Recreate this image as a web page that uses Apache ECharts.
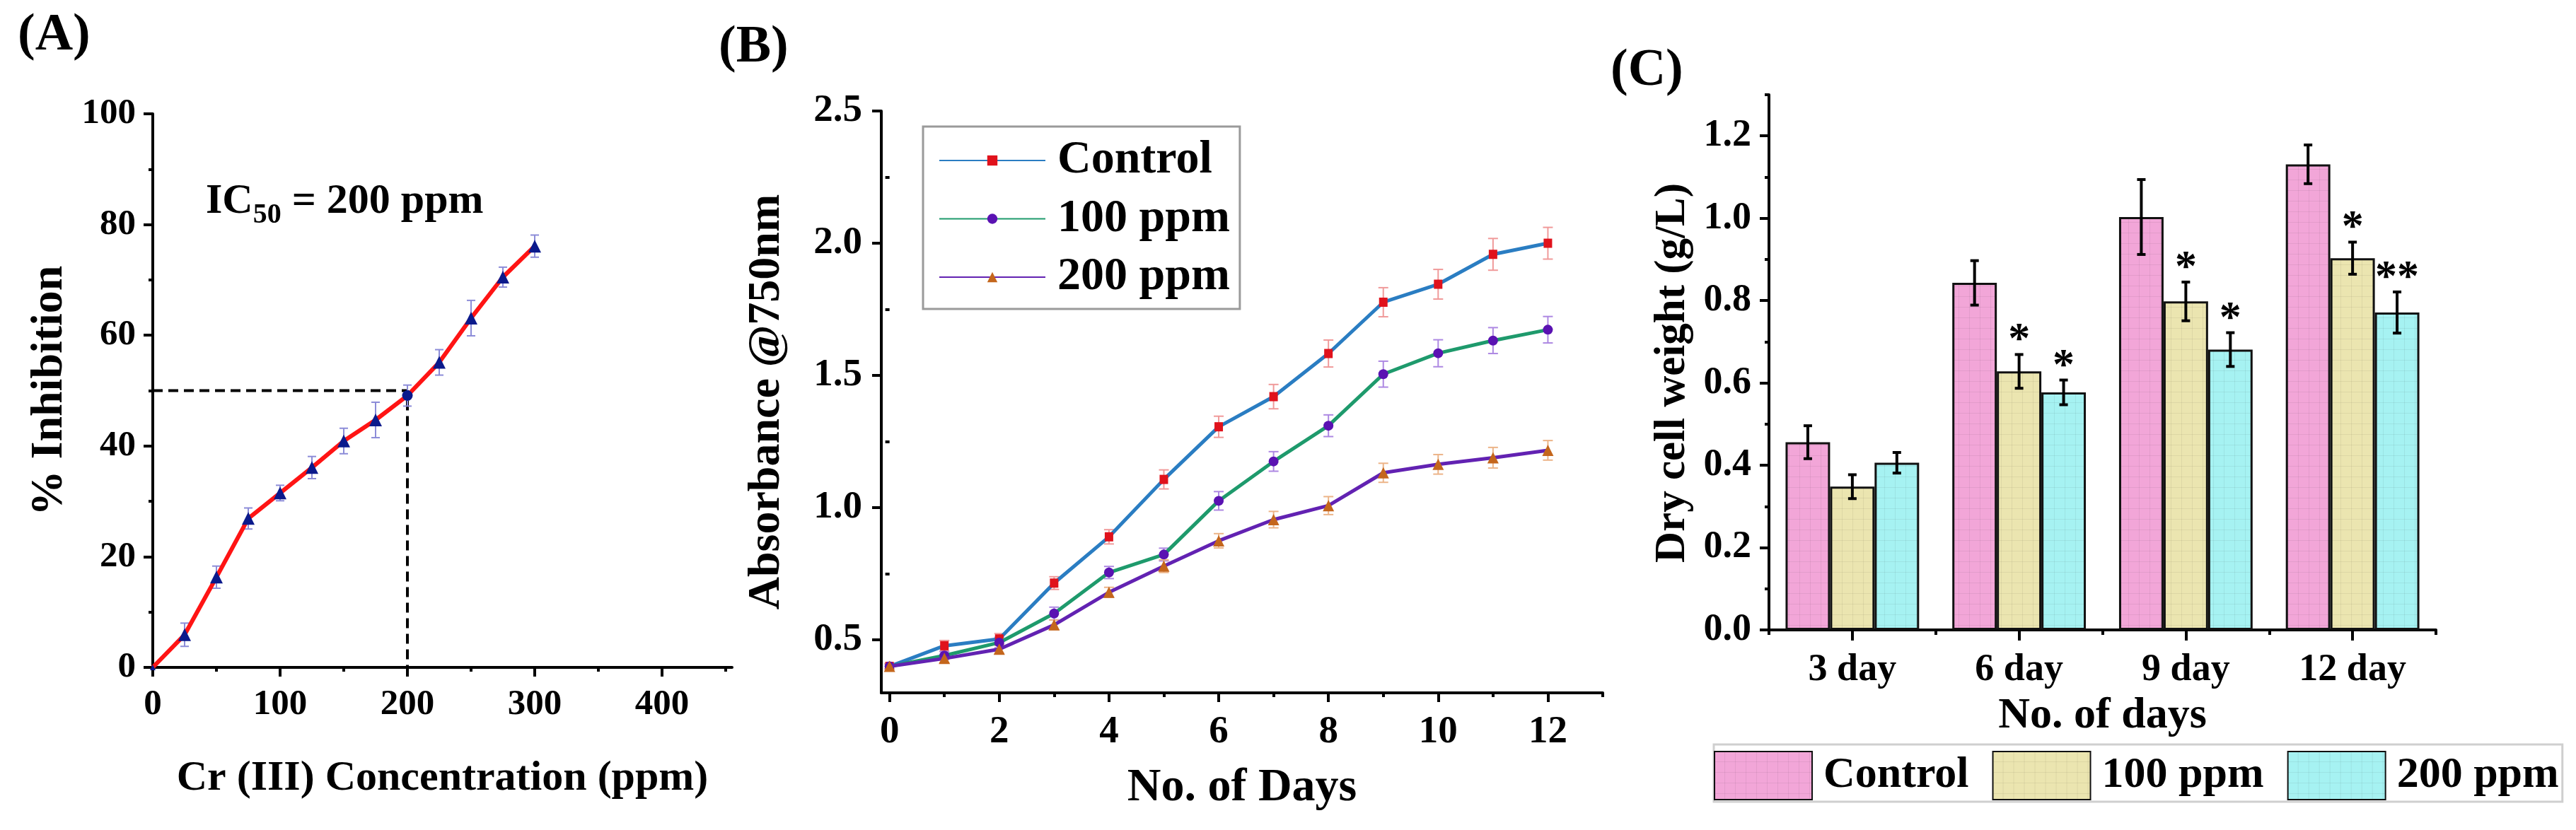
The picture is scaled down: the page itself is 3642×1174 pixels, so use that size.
<!DOCTYPE html>
<html>
<head>
<meta charset="utf-8">
<script src="https://cdn.jsdelivr.net/npm/echarts@6/dist/echarts.min.js"></script>
<style>
html,body{margin:0;padding:0;background:#fff;}
#wrap{position:relative;width:3642px;height:1174px;overflow:hidden;background:#fff;}
.pane{position:absolute;top:0;height:1174px;}
#pa{left:0;width:1100px;}
#pb{left:1000px;width:1280px;}
#pc{left:2260px;width:1382px;}
</style>
</head>
<body>
<div id="wrap"><div id="pa" class="pane"></div><div id="pb" class="pane"></div><div id="pc" class="pane"></div></div>
<script>
// ---------- Panel A data ----------
const aConc  = [0, 25, 50, 75, 100, 125, 150, 175, 200, 225, 250, 275, 300];
const aInhib = [0, 5.9, 16.3, 26.9, 31.5, 36.1, 40.9, 44.7, 49.1, 55.1, 63.1, 70.5, 76.1];
const aErr   = [0, 2.1, 2.0, 1.9, 1.4, 2.0, 2.3, 3.2, 1.9, 2.3, 3.2, 1.8, 2.0];
const aIC50Value = 50;
const aIC50Conc = 200;
const aXTicks = [0, 100, 200, 300, 400];
const aYTicks = [0, 20, 40, 60, 80, 100];

// ---------- Panel B data ----------
const bNames = ['Control', '100 ppm', '200 ppm'];
const bDays = [0, 1, 2, 3, 4, 5, 6, 7, 8, 9, 10, 11, 12];
const bControl    = [0.40, 0.478, 0.504, 0.715, 0.890, 1.107, 1.306, 1.420, 1.583, 1.777, 1.845, 1.958, 2.000];
const bControlErr = [0.010, 0.020, 0.020, 0.024, 0.027, 0.036, 0.040, 0.046, 0.051, 0.055, 0.056, 0.060, 0.060];
const b100ppm     = [0.40, 0.441, 0.490, 0.600, 0.755, 0.823, 1.026, 1.175, 1.310, 1.505, 1.584, 1.632, 1.673];
const b100ppmErr  = [0.010, 0.015, 0.020, 0.024, 0.023, 0.024, 0.035, 0.037, 0.041, 0.049, 0.051, 0.049, 0.050];
const b200ppm     = [0.40, 0.430, 0.465, 0.557, 0.680, 0.779, 0.875, 0.955, 1.008, 1.132, 1.164, 1.189, 1.217];
const b200ppmErr  = [0.010, 0.015, 0.015, 0.018, 0.019, 0.024, 0.027, 0.031, 0.034, 0.036, 0.037, 0.039, 0.037];
const bXTicks = [0, 2, 4, 6, 8, 10, 12];
const bYTicks = [0.5, 1.0, 1.5, 2.0, 2.5];

// ---------- Panel C data ----------
const cNames = ['Control', '100 ppm', '200 ppm'];
const cCategories = ['3 day', '6 day', '9 day', '12 day'];
const cControl    = [0.456, 0.843, 1.003, 1.131];
const cControlErr = [0.040, 0.054, 0.091, 0.047];
const c100ppm     = [0.348, 0.628, 0.798, 0.903];
const c100ppmErr  = [0.029, 0.041, 0.047, 0.039];
const c200ppm     = [0.406, 0.577, 0.681, 0.771];
const c200ppmErr  = [0.025, 0.030, 0.041, 0.050];
const cSigControl = ['', '', '', ''];
const cSig100ppm  = ['', '*', '*', '*'];
const cSig200ppm  = ['', '*', '*', '**'];
const cYTicks = [0, 0.2, 0.4, 0.6, 0.8, 1.0, 1.2];

// ---------- helpers ----------
const FONT = "'Liberation Serif', 'Times New Roman', serif";
function minorOf(ticks, max) {
  const step = ticks[1] - ticks[0];
  const out = [];
  for (let i = 0; i < ticks.length; i++) {
    const v = +(ticks[i] + step / 2).toFixed(6);
    if (v <= max + 1e-9) out.push(v);
  }
  return out;
}
function txt(size, extra) {
  return Object.assign({color: '#000', fontFamily: FONT, fontWeight: 'bold', fontSize: size}, extra || {});
}
const AX_LINE = {show: true, onZero: false, lineStyle: {color: '#000', width: 4}};
function mainAxis(type, min, max, ticks, tickLen, labelSize, margin, fmt, nameObj) {
  const o = {
    type: type, min: min, max: max,
    axisLine: AX_LINE,
    axisTick: {show: true, customValues: ticks, length: tickLen, lineStyle: {color: '#000', width: 4}},
    axisLabel: txt(labelSize, {customValues: ticks, margin: margin, formatter: fmt}),
    splitLine: {show: false}
  };
  return Object.assign(o, nameObj || {});
}
function minorAxis(min, max, ticks, len, position) {
  return {
    type: 'value', min: min, max: max, position: position,
    axisLine: {show: false},
    axisTick: {show: true, customValues: ticks, length: len, lineStyle: {color: '#000', width: 4}},
    axisLabel: {show: false}, splitLine: {show: false}
  };
}
function errRender(color, capW, lw) {
  return function (params, api) {
    const x = api.value(0), lo = api.value(1), hi = api.value(2);
    const p1 = api.coord([x, lo]), p2 = api.coord([x, hi]);
    const st = {stroke: color, lineWidth: lw};
    return {type: 'group', children: [
      {type: 'line', shape: {x1: p1[0], y1: p1[1], x2: p2[0], y2: p2[1]}, style: st},
      {type: 'line', shape: {x1: p1[0] - capW / 2, y1: p1[1], x2: p1[0] + capW / 2, y2: p1[1]}, style: st},
      {type: 'line', shape: {x1: p2[0] - capW / 2, y1: p2[1], x2: p2[0] + capW / 2, y2: p2[1]}, style: st}
    ]};
  };
}
function errData(xs, ys, es) {
  const out = [];
  for (let i = 0; i < xs.length; i++) if (es[i] > 0) out.push([xs[i], ys[i] - es[i], ys[i] + es[i]]);
  return out;
}
// faint grid fill pattern, like the reference bars
function gridPattern(fill) {
  const c = document.createElement('canvas');
  c.width = 15; c.height = 15;
  const g = c.getContext('2d');
  g.fillStyle = fill; g.fillRect(0, 0, 15, 15);
  g.fillStyle = 'rgba(0,0,0,0.06)';
  g.fillRect(14, 0, 1, 15);
  g.fillRect(0, 14, 15, 1);
  return {image: c, repeat: 'repeat'};
}

// ---------- Chart A ----------
const chA = echarts.init(document.getElementById('pa'));
chA.setOption({
  animation: false,
  grid: {left: 216, top: 161, width: 819, height: 783},
  xAxis: [
    mainAxis('value', 0, 455, aXTicks, 13, 51, 27, v => String(v), {
      name: 'Cr (III) Concentration (ppm)', nameLocation: 'middle', nameGap: 127, nameTextStyle: txt(60)
    }),
    minorAxis(0, 455, minorOf(aXTicks, 455), 6, 'bottom')
  ],
  yAxis: [
    mainAxis('value', 0, 100, aYTicks, 13, 51, 24, v => String(v), {
      name: '% Inhibition', nameLocation: 'middle', nameGap: 114, nameTextStyle: txt(64)
    }),
    minorAxis(0, 100, minorOf(aYTicks, 100), 6, 'left')
  ],
  graphic: [
    {type: 'text', left: 25, top: 14, style: {text: '(A)', fill: '#000', fontFamily: FONT, fontWeight: 'bold', fontSize: 74}},
    {type: 'text', left: 291, top: 255, style: {
      text: '{a|IC}{b|' + aIC50Value + '}{a| = ' + aIC50Conc + ' ppm}',
      rich: {
        a: {fontFamily: FONT, fontWeight: 'bold', fontSize: 60, lineHeight: 80, verticalAlign: 'middle', fill: '#000'},
        b: {fontFamily: FONT, fontWeight: 'bold', fontSize: 40, lineHeight: 40, verticalAlign: 'bottom', fill: '#000'}
      }
    }}
  ],
  series: [
    {type: 'line', name: 'IC50 guide', xAxisIndex: 0, yAxisIndex: 0, z: 1, silent: true,
     data: [[0, aIC50Value], [aIC50Conc, aIC50Value], [aIC50Conc, 0]], symbol: 'none',
     lineStyle: {color: '#000', width: 4, type: [14, 8]}},
    {type: 'custom', name: 'errA', xAxisIndex: 0, yAxisIndex: 0, z: 2,
     renderItem: errRender('#8c8cd8', 12, 2), encode: {x: 0, y: [1, 2]},
     data: errData(aConc, aInhib, aErr)},
    {type: 'line', name: '% Inhibition', xAxisIndex: 0, yAxisIndex: 0, z: 3,
     data: aConc.map((x, i) => {
       const item = {value: [x, aInhib[i]]};
       if (x === aIC50Conc) { item.symbol = 'circle'; item.symbolSize = 15; }
       if (x === 0) { item.symbolSize = 8; }
       return item;
     }),
     symbol: 'triangle', symbolSize: 18,
     itemStyle: {color: '#0b1a8c'},
     lineStyle: {color: '#ff1414', width: 6}}
  ]
});

// ---------- Chart B ----------
const chB = echarts.init(document.getElementById('pb'));
const bSeriesDef = [
  {name: bNames[0], y: bControl, e: bControlErr, line: '#2a7dc2', mark: '#e0121c', err: '#f09a9a', sym: 'rect', size: [12, 13]},
  {name: bNames[1], y: b100ppm, e: b100ppmErr, line: '#1e9a6c', mark: '#5a12b2', err: '#ad88e2', sym: 'circle', size: 14},
  {name: bNames[2], y: b200ppm, e: b200ppmErr, line: '#6222b2', mark: '#c4661c', err: '#ecb488', sym: 'triangle', size: 16}
];
const bSeries = [];
bSeriesDef.forEach((s, k) => {
  bSeries.push({type: 'custom', name: s.name + ' error', xAxisIndex: 0, yAxisIndex: 0, z: 2,
    renderItem: errRender(s.err, 14, 2), encode: {x: 0, y: [1, 2]},
    data: errData(bDays, s.y, s.e)});
});
bSeriesDef.forEach((s, k) => {
  bSeries.push({type: 'line', name: s.name, xAxisIndex: 0, yAxisIndex: 0, z: 3 + k,
    data: bDays.map((d, i) => [d, s.y[i]]),
    symbol: s.sym, symbolSize: s.size,
    itemStyle: {color: s.mark},
    lineStyle: {color: s.line, width: 5}});
});
chB.setOption({
  animation: false,
  grid: {left: 246, top: 157, width: 1020, height: 823},
  xAxis: [
    mainAxis('value', -0.15, 13, bXTicks, 13, 55, 28, v => String(v), {
      name: 'No. of Days', nameLocation: 'middle', nameGap: 102, nameTextStyle: txt(66)
    }),
    minorAxis(-0.15, 13, minorOf(bXTicks, 13), 6, 'bottom')
  ],
  yAxis: [
    mainAxis('value', 0.3, 2.5, bYTicks, 13, 55, 27, v => v.toFixed(1), {
      name: 'Absorbance @750nm', nameLocation: 'middle', nameGap: 130, nameTextStyle: txt(64)
    }),
    minorAxis(0.3, 2.5, minorOf(bYTicks, 2.5), 6, 'left')
  ],
  legend: {
    orient: 'vertical', left: 305, top: 179, padding: [15, 14, 12, 22],
    itemGap: 16.5, itemWidth: 150, itemHeight: 18,
    borderColor: '#9a9a9a', borderWidth: 3, backgroundColor: '#fff',
    textStyle: txt(66, {padding: [0, 0, 0, 12]}),
    data: bNames
  },
  graphic: [
    {type: 'text', left: 16, top: 31, style: {text: '(B)', fill: '#000', fontFamily: FONT, fontWeight: 'bold', fontSize: 74}}
  ],
  series: bSeries
});

// ---------- Chart C ----------
const chC = echarts.init(document.getElementById('pc'));
const BAR_FRAC = 0.267;
const cDef = [
  {name: cNames[0], v: cControl, e: cControlErr, sig: cSigControl, color: '#f2a6d8'},
  {name: cNames[1], v: c100ppm, e: c100ppmErr, sig: cSig100ppm, color: '#ebe5b0'},
  {name: cNames[2], v: c200ppm, e: c200ppmErr, sig: cSig200ppm, color: '#a6f2f2'}
];
const cSeries = [];
cDef.forEach((s) => {
  cSeries.push({type: 'bar', name: s.name, xAxisIndex: 0, yAxisIndex: 0,
    data: s.v, barWidth: (BAR_FRAC * 100) + '%', barGap: '0%',
    itemStyle: {color: gridPattern(s.color), borderColor: '#111', borderWidth: 3}});
});
cDef.forEach((s, k) => {
  cSeries.push({type: 'custom', name: s.name + ' error', xAxisIndex: 0, yAxisIndex: 0, z: 5,
    encode: {x: 0, y: [1, 2]},
    data: s.v.map((v, i) => [i, v - s.e[i], v + s.e[i]]),
    renderItem: function (params, api) {
      const i = api.value(0), lo = api.value(1), hi = api.value(2);
      const band = api.size([1, 0])[0];
      const off = (k - 1) * band * BAR_FRAC;
      const p1 = api.coord([i, lo]), p2 = api.coord([i, hi]);
      const x = p1[0] + off, cap = 12;
      const st = {stroke: '#000', lineWidth: 4};
      const ch = [
        {type: 'line', shape: {x1: x, y1: p1[1], x2: x, y2: p2[1]}, style: st},
        {type: 'line', shape: {x1: x - cap / 2, y1: p1[1], x2: x + cap / 2, y2: p1[1]}, style: st},
        {type: 'line', shape: {x1: x - cap / 2, y1: p2[1], x2: x + cap / 2, y2: p2[1]}, style: st}
      ];
      const sig = s.sig[params.dataIndex];
      if (sig) {
        ch.push({type: 'text', x: x, y: p2[1] - 19, style: {text: sig, fill: '#000', fontFamily: FONT, fontWeight: 'bold', fontSize: 62, align: 'center', verticalAlign: 'middle'}});
      }
      return {type: 'group', children: ch};
    }});
});
chC.setOption({
  animation: false,
  grid: {left: 241, top: 134, width: 943, height: 757},
  xAxis: [
    {type: 'category', data: cCategories,
     axisLine: AX_LINE,
     axisTick: {show: true, alignWithLabel: true, length: 15, lineStyle: {color: '#000', width: 4}},
     axisLabel: txt(54, {margin: 30}),
     splitLine: {show: false},
     name: 'No. of days', nameLocation: 'middle', nameGap: 91, nameTextStyle: txt(62)},
    {type: 'category', data: cCategories, position: 'bottom',
     axisLine: {show: false},
     axisTick: {show: true, alignWithLabel: false, length: 7, lineStyle: {color: '#000', width: 4}},
     axisLabel: {show: false}, splitLine: {show: false}}
  ],
  yAxis: [
    mainAxis('value', 0, 1.3, cYTicks, 13, 54, 25, v => v.toFixed(1), {
      name: 'Dry cell weight (g/L)', nameLocation: 'middle', nameGap: 105,
      nameTextStyle: txt(61, {padding: [0, 30, 0, 0]})
    }),
    minorAxis(0, 1.3, minorOf(cYTicks, 1.3), 6, 'left')
  ],
  legend: {
    orient: 'horizontal', left: 163, top: 1053, padding: [9, 5, 2, 0],
    itemGap: 33, itemWidth: 138, itemHeight: 68, icon: 'rect',
    borderColor: '#cfcfcf', borderWidth: 3,
    textStyle: txt(62, {padding: [0, 0, 0, 11]}),
    data: cNames
  },
  graphic: [
    {type: 'text', left: 17, top: 64, style: {text: '(C)', fill: '#000', fontFamily: FONT, fontWeight: 'bold', fontSize: 74}}
  ],
  series: cSeries
});
</script>
</body>
</html>
